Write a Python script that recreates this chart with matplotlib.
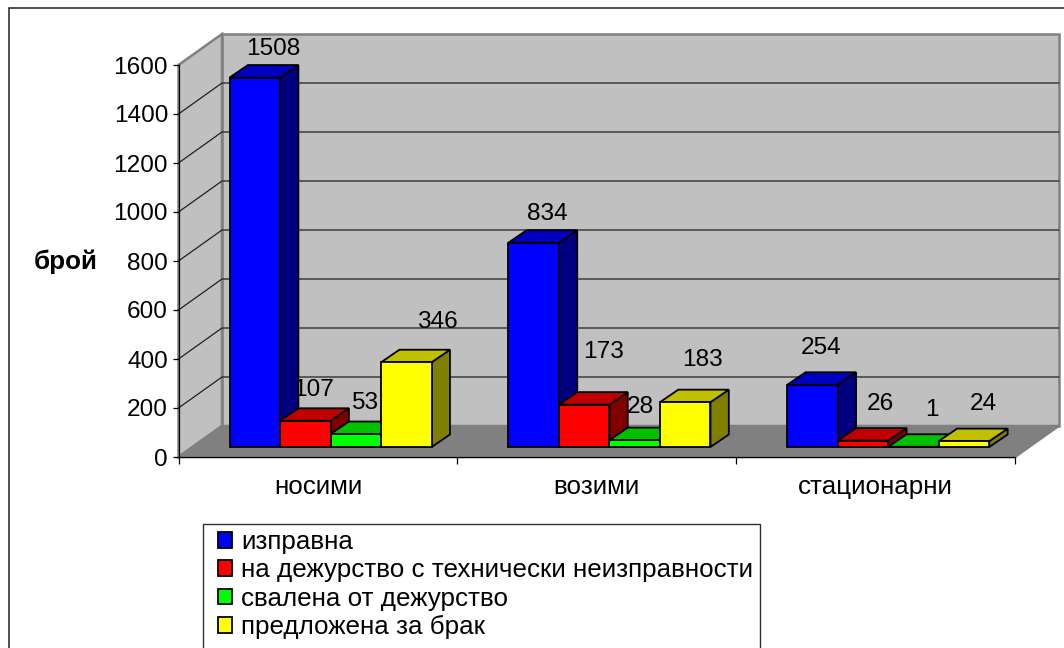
import matplotlib
matplotlib.use("Agg")
import matplotlib.pyplot as plt
from matplotlib.patches import Polygon, Patch, Rectangle
from matplotlib.transforms import Affine2D, IdentityTransform

plt.rcParams['font.family'] = ['Liberation Sans', 'DejaVu Sans']

# --- data ---
categories = ["носими", "возими", "стационарни"]
series_names = ["изправна", "на дежурство с технически неизправности",
                "свалена от дежурство", "предложена за брак"]
izpravna = [1508, 834, 254]
neizpravnosti = [107, 173, 26]
svalena = [53, 28, 1]
brak = [346, 183, 24]
y_ticks = [0, 200, 400, 600, 800, 1000, 1200, 1400, 1600]
y_title = "брой"

# --- style ---
W, H = 1064, 648
series = [izpravna, neizpravnosti, svalena, brak]
front_col = ["#0000FF", "#FF0000", "#00FF00", "#FFFF00"]
top_col = ["#0000C0", "#C00000", "#00C000", "#C0C000"]
side_col = ["#000080", "#800000", "#008000", "#808000"]
FS = 17.6
FS_CYR = 18.7
ID = IdentityTransform()

fig = plt.figure(figsize=(W / 100, H / 100), dpi=100)
L, R, T, B = 178.5, 1015, 65, 457
ax = fig.add_axes([L / W, 1 - B / H, (R - L) / W, (B - T) / H])
ax.set_xlim(0, len(categories))
ax.set_ylim(0, 1600)
ax.patch.set_visible(False)
for s in ax.spines.values():
    s.set_visible(False)

# outer chart frame (runs off the right and bottom of the picture)
fig.add_artist(Rectangle((8.5 / W, -0.02), 1.1, 1.02 - 7.5 / H,
                         transform=fig.transFigure, fill=False, ec="#202020", lw=1.1))
# legend box (runs off the bottom)
fig.add_artist(Rectangle((202.5 / W, -0.02), (760 - 202.5) / W, 1.02 - 523.5 / H,
                         transform=fig.transFigure, fill=False, ec="#303030", lw=1.0))

WALL_DX, WALL_DY = 43.5, 31.0      # total depth of the 3D box in px
BAR_D0 = (12.7, 10.0)              # bar front relative to the front plane, px
BAR_D1 = (31.0, 22.5)              # bar back relative to the front plane, px
BAR_W = 0.1812                     # one bar width in category units


def disp(x, y, dx=0, dy=0):
    return tuple(ax.transData.transform((x, y)) + (dx, dy))


def bar3d(x0, x1, v, c_front, c_top, c_side, z):
    (fx, fy), (bx, by) = BAR_D0, BAR_D1
    style = dict(ec="black", lw=1.3, joinstyle="miter", zorder=z, transform=ID, clip_on=False)
    side = [disp(x1, 0, fx, fy), disp(x1, v, fx, fy), disp(x1, v, bx, by), disp(x1, 0, bx, by)]
    top = [disp(x0, v, fx, fy), disp(x1, v, fx, fy), disp(x1, v, bx, by), disp(x0, v, bx, by)]
    front = [disp(x0, 0, fx, fy), disp(x1, 0, fx, fy), disp(x1, v, fx, fy), disp(x0, v, fx, fy)]
    ax.add_patch(Polygon(side, closed=True, fc=c_side, **style))
    ax.add_patch(Polygon(top, closed=True, fc=c_top, **style))
    ax.add_patch(Polygon(front, closed=True, fc=c_front, **style))


# walls and floor
wall_kw = dict(ec="#808080", lw=1.8, joinstyle="miter", transform=ID, clip_on=False, zorder=1)
n = len(categories)
ymax = y_ticks[-1]
ax.add_patch(Polygon([disp(0, 0, WALL_DX, WALL_DY), disp(n, 0, WALL_DX, WALL_DY),
                      disp(n, ymax, WALL_DX, WALL_DY), disp(0, ymax, WALL_DX, WALL_DY)],
                     closed=True, fc="#C0C0C0", **wall_kw))
ax.add_patch(Polygon([disp(0, 0), disp(0, ymax), disp(0, ymax, WALL_DX, WALL_DY),
                      disp(0, 0, WALL_DX, WALL_DY)],
                     closed=True, fc="#C0C0C0", **wall_kw))
ax.add_patch(Polygon([disp(0, 0), disp(n, 0), disp(n, 0, WALL_DX, WALL_DY),
                      disp(0, 0, WALL_DX, WALL_DY)],
                     closed=True, fc="#808080", **wall_kw))

# gridlines on left and back walls
for v in y_ticks[1:-1]:
    a, b, c = disp(0, v), disp(0, v, WALL_DX, WALL_DY), disp(n, v, WALL_DX, WALL_DY)
    ax.plot([a[0], b[0], c[0]], [a[1], b[1], c[1]], color="#202020", lw=0.9,
            transform=ID, clip_on=False, zorder=2, solid_joinstyle="miter")

# bars
for i in range(n):
    start = i + 0.5 - 2 * BAR_W
    for j, vals in enumerate(series):
        bar3d(start + j * BAR_W, start + (j + 1) * BAR_W, vals[i],
              front_col[j], top_col[j], side_col[j], 3 + 0.1 * j)

# data labels, placed where the reference has them (px centre)
label_pos = [
    [(273, 49), (314, 390), (365, 403), (437, 322)],
    [(547, 214), (604, 352), (640, 407), (702, 360)],
    [(821, 348), (880, 404), (932, 410), (983, 404)],
]
for i in range(n):
    for j, vals in enumerate(series):
        px, py = label_pos[i][j]
        ax.annotate(str(vals[i]), xy=(i + 0.5 - 2 * BAR_W + (j + 0.5) * BAR_W, vals[i]),
                    xytext=(px / W, 1 - py / H), textcoords="figure fraction",
                    ha="center", va="center", fontsize=FS, color="black", zorder=6,
                    annotation_clip=False)

# axes: ticks and labels
ax.set_yticks(y_ticks)
ax.set_xticks(range(n + 1))
ax.set_xticklabels([])
ax.set_xticks([i + 0.5 for i in range(n)], minor=True)
ax.set_xticklabels(categories, minor=True, fontsize=FS_CYR)
ax.tick_params(axis="y", length=4.5, width=0.9, pad=3, labelsize=FS, color="black")
ax.tick_params(axis="x", which="major", length=5, width=0.9, color="black")
ax.tick_params(axis="x", which="minor", length=0, pad=13)
for name in ("left", "bottom"):
    ax.spines[name].set_visible(True)
    ax.spines[name].set_color("black")
    ax.spines[name].set_linewidth(0.9)
    ax.spines[name].set_zorder(2.5)
fig.text(66 / W, 1 - 262 / H, y_title, fontsize=FS_CYR, fontweight="bold",
         ha="center", va="center")

# legend
handles = [Patch(fc=c, ec="black", lw=1.3) for c in front_col]
leg = fig.legend(handles, series_names, loc="upper left",
                 bbox_to_anchor=(217.5 / W, 1 - 530 / H), bbox_transform=fig.transFigure,
                 fontsize=FS_CYR, frameon=False,
                 handlelength=0.54, handleheight=0.54, handletextpad=0.36,
                 labelspacing=0.17, borderaxespad=0, borderpad=0)

fig.savefig("out.png", dpi=100)
